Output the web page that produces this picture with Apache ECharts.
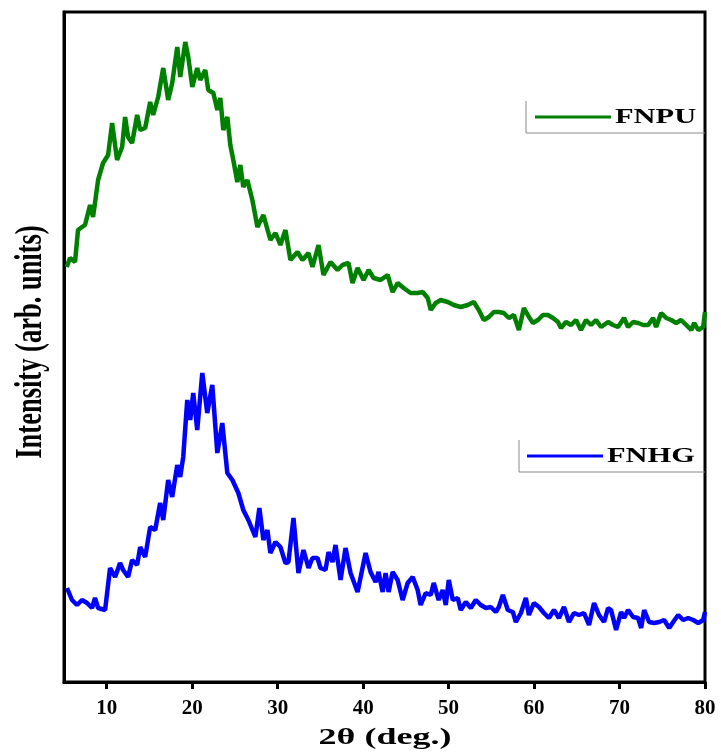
<!DOCTYPE html>
<html>
<head>
<meta charset="utf-8">
<script src="https://cdn.jsdelivr.net/npm/echarts@6/dist/echarts.min.js"></script>
<style>
  html, body { margin: 0; padding: 0; background: #ffffff; }
  #chart { width: 721px; height: 755px; }
</style>
</head>
<body>
<div id="chart"></div>
<script>
// XRD patterns, 2θ in degrees vs. intensity (arbitrary units, offset stacks)
const fnpuAngle = [5.32,5.70,6.29,6.64,7.11,7.46,8.05,8.40,8.99,9.57,10.16,10.63,11.21,11.80,12.15,12.50,12.97,13.56,13.91,14.50,15.08,15.43,16.02,16.61,17.19,17.66,18.25,18.60,19.19,19.54,20.01,20.59,20.94,21.53,21.88,22.47,22.94,23.29,23.64,24.11,24.46,24.81,25.28,25.63,25.98,26.45,27.04,27.63,28.33,29.15,29.74,30.32,30.91,31.49,32.32,32.90,33.61,34.07,34.78,35.36,36.18,37.00,37.59,38.29,38.76,39.35,40.05,40.64,41.22,42.05,42.87,43.45,44.04,44.74,45.56,46.38,46.97,47.56,47.91,48.49,49.08,49.90,50.60,51.42,52.25,52.95,53.53,54.12,54.71,55.29,55.88,56.46,57.05,57.64,58.22,58.81,59.40,59.87,60.45,61.04,61.62,62.21,62.80,63.15,63.73,64.32,64.91,65.49,66.08,66.66,67.25,67.84,68.66,69.24,69.83,70.53,71.00,71.59,72.17,72.76,73.35,73.93,74.28,74.87,75.46,76.04,76.63,77.21,77.80,78.39,78.74,79.21,79.79,80.00];
const fnpuIntensity = [415,424,420,452,455,457,477,465,502,519,527,559,522,535,565,545,539,567,552,554,580,567,585,614,582,599,635,605,640,625,595,614,602,612,592,589,572,584,552,565,537,522,500,517,495,502,482,455,467,442,449,437,452,422,430,422,429,415,437,407,420,412,417,419,399,414,402,412,404,402,407,390,399,394,389,389,390,384,372,379,382,380,377,375,377,380,372,362,365,370,370,369,364,367,352,374,365,359,362,367,367,364,360,354,360,357,362,352,362,357,362,355,360,357,355,364,355,360,359,357,357,364,355,369,364,362,359,362,357,352,359,352,355,370];

const fnhgAngle = [5.35,5.94,6.52,7.11,7.70,8.28,8.63,8.99,9.81,10.39,10.98,11.56,11.92,12.50,12.97,13.56,13.91,14.50,15.08,15.67,16.25,16.61,17.19,17.66,18.25,18.60,18.95,19.42,19.77,20.12,20.59,21.18,21.76,22.35,22.94,23.52,24.11,24.70,25.40,25.98,26.57,27.39,27.86,28.33,28.80,29.15,29.74,30.32,30.91,31.26,31.85,32.43,33.02,33.61,34.07,34.66,35.01,35.60,35.95,36.42,36.77,37.36,37.94,38.53,39.35,40.29,40.87,41.46,41.81,42.28,42.63,42.98,43.45,44.04,44.62,45.21,45.80,46.38,46.73,47.32,47.91,48.26,48.84,49.31,49.67,50.02,50.49,51.07,51.42,52.01,52.60,53.18,53.77,54.36,54.94,55.53,55.88,56.35,56.93,57.52,57.87,58.46,59.04,59.40,59.98,60.57,61.15,61.74,62.33,62.91,63.50,64.09,64.67,65.26,65.84,66.43,67.02,67.60,68.19,68.66,69.01,69.60,70.18,70.53,71.00,71.59,72.17,72.53,72.88,73.46,74.05,74.64,75.22,75.81,76.28,76.86,77.45,78.04,78.62,79.21,79.79,80.00];
const fnhgIntensity = [94,82,77,82,79,74,84,74,72,114,105,119,112,105,122,117,135,125,155,152,179,162,202,185,217,205,225,282,262,289,252,309,269,297,229,259,209,202,189,172,162,145,174,142,152,129,140,135,119,120,164,109,132,114,124,124,114,112,130,120,137,102,134,109,90,129,110,100,110,90,109,90,110,102,82,99,105,92,77,89,87,99,82,92,77,102,82,84,72,80,74,82,77,74,75,70,75,87,72,70,60,69,84,67,79,75,69,64,72,64,75,60,69,67,69,57,79,67,60,74,72,52,70,64,72,65,64,54,72,60,59,60,62,54,60,67,62,64,62,59,62,70];

const seriesNames = ['FNPU', 'FNHG'];
const seriesColors = ['#008000', '#0000ff'];
const xTicks = [10, 20, 30, 40, 50, 60, 70, 80];
const xTitle = '2θ (deg.)';
const yTitle = 'Intensity (arb. units)';

const zip = (a, b) => a.map((v, i) => [v, b[i]]);
const serif = '"Liberation Serif", "Times New Roman", serif';

// bold serif text, widened horizontally (glyph-height direction for rotated text)
function wideText(text, x, y, size, opts) {
  return Object.assign({
    type: 'text', x: x, y: y, silent: true,
    style: {
      text: text, fill: '#000',
      fontFamily: serif, fontWeight: 'bold', fontSize: size,
      align: opts.align || 'left', textAlign: opts.align || 'left',
      verticalAlign: 'middle', textVerticalAlign: 'middle'
    }
  }, opts.transform);
}

const chart = echarts.init(document.getElementById('chart'), null, { renderer: 'canvas' });

chart.setOption({
  backgroundColor: '#ffffff',
  animation: false,
  grid: {
    left: 64, right: 16, top: 12, bottom: 73,
    show: true, borderColor: '#000000', borderWidth: 3, backgroundColor: 'transparent'
  },
  xAxis: {
    type: 'value', min: 5, max: 80,
    axisLine: { show: true, lineStyle: { color: '#000', width: 3 } },
    axisTick: { show: true, customValues: xTicks, length: 7, inside: false, lineStyle: { color: '#000', width: 3 } },
    axisLabel: { customValues: xTicks, margin: 16, fontFamily: serif, fontWeight: 'bold', fontSize: 21, color: '#000' },
    splitLine: { show: false }
  },
  yAxis: {
    type: 'value', min: 0, max: 670,
    axisLine: { show: true, lineStyle: { color: '#000', width: 3 } },
    axisTick: { show: false },
    axisLabel: { show: false },
    splitLine: { show: false }
  },
  legend: [
    {
      data: [seriesNames[0]], left: 530, top: 110.5,
      itemWidth: 76, itemHeight: 3, icon: 'rect',
      formatter: () => '', textStyle: { fontSize: 1 }
    },
    {
      data: [seriesNames[1]], left: 522, top: 449.5,
      itemWidth: 76, itemHeight: 3, icon: 'rect',
      formatter: () => '', textStyle: { fontSize: 1 }
    }
  ],
  graphic: [
    // legend frames: left and bottom edges
    { type: 'polyline', shape: { points: [[526, 101], [526, 133], [705, 133]] }, style: { stroke: '#8a8a8a', lineWidth: 1, fill: null } },
    { type: 'polyline', shape: { points: [[519, 440], [519, 472], [705, 472]] }, style: { stroke: '#8a8a8a', lineWidth: 1, fill: null } },
    // legend labels
    wideText(seriesNames[0], 615, 118, 21, { transform: { scaleX: 1.45 } }),
    wideText(seriesNames[1], 607, 457, 21, { transform: { scaleX: 1.45 } }),
    // axis titles
    wideText(xTitle, 385, 738, 24, { align: 'center', transform: { scaleX: 1.5 } }),
    wideText(yTitle, 31, 342, 26.5, { align: 'center', transform: { rotation: Math.PI / 2, scaleY: 1.4 } })
  ],
  series: [
    {
      name: seriesNames[0], type: 'line', showSymbol: false, smooth: false,
      data: zip(fnpuAngle, fnpuIntensity),
      lineStyle: { color: seriesColors[0], width: 4.5 }, itemStyle: { color: seriesColors[0] }
    },
    {
      name: seriesNames[1], type: 'line', showSymbol: false, smooth: false,
      data: zip(fnhgAngle, fnhgIntensity),
      lineStyle: { color: seriesColors[1], width: 4.5 }, itemStyle: { color: seriesColors[1] }
    }
  ]
});
</script>
</body>
</html>
